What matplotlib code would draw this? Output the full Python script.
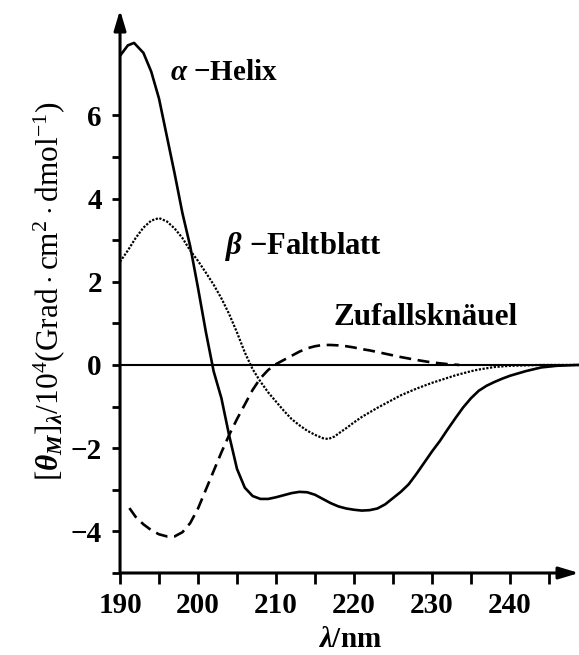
import matplotlib
matplotlib.use('Agg')
import matplotlib.pyplot as plt
import numpy as np

# CD-Spektren
helix_nm = [190, 191, 191.8, 193, 194, 195, 196, 197, 198, 199, 200, 201, 202, 203, 204,
            205, 206, 207, 208, 209, 210, 211, 212, 213, 214, 215, 216, 217, 218, 219,
            220, 221, 222, 223, 224, 225, 226, 227, 228, 229, 230, 231, 232, 233, 234,
            235, 236, 237, 238, 239, 240, 242, 244, 246, 248.8]
helix_val = [7.43, 7.68, 7.74, 7.5, 7.05, 6.4, 5.5, 4.6, 3.65, 2.85, 1.85, 0.8, -0.15, -0.8, -1.7,
             -2.5, -2.95, -3.15, -3.22, -3.22, -3.18, -3.13, -3.08, -3.05, -3.06, -3.12, -3.22, -3.32, -3.4, -3.45,
             -3.48, -3.5, -3.49, -3.45, -3.35, -3.2, -3.05, -2.87, -2.62, -2.35, -2.08, -1.83, -1.55, -1.28, -1.02,
             -0.8, -0.62, -0.5, -0.41, -0.33, -0.26, -0.15, -0.06, -0.02, 0]

faltblatt_nm = [190, 191, 192, 193, 194, 195, 196, 197, 198, 199, 200, 201, 202, 203, 204,
                205, 206, 207, 208, 209, 210, 211, 212, 213, 214, 215, 216, 216.7, 217.5, 218,
                219, 220, 221, 222, 223, 224, 225, 226, 227, 228, 229, 230, 231, 232, 233,
                234, 235, 236, 238, 240, 244, 248.8]
faltblatt_val = [2.48, 2.75, 3.05, 3.3, 3.47, 3.53, 3.45, 3.28, 3.05, 2.75, 2.5, 2.22, 1.93, 1.6, 1.22,
                 0.78, 0.3, -0.1, -0.4, -0.66, -0.88, -1.1, -1.3, -1.45, -1.58, -1.68, -1.76, -1.78, -1.72, -1.65,
                 -1.52, -1.38, -1.25, -1.14, -1.03, -0.93, -0.83, -0.73, -0.65, -0.57, -0.5, -0.43, -0.37, -0.31, -0.25,
                 -0.2, -0.15, -0.11, -0.05, -0.02, 0, 0]

knaeuel_nm = [191.2, 192, 193, 194, 195, 196, 197, 198, 199, 200, 201, 202, 203, 204, 205,
              206, 207, 208, 209, 210, 211, 212, 213, 214, 215, 216, 217, 218, 219, 220,
              221, 222, 224, 226, 228, 230, 232, 233.5]
knaeuel_val = [-3.44, -3.65, -3.83, -3.97, -4.07, -4.12, -4.12, -4.02, -3.8, -3.45, -3.0, -2.55, -2.1, -1.68, -1.3,
               -0.95, -0.6, -0.32, -0.12, 0.02, 0.12, 0.22, 0.32, 0.4, 0.45, 0.48, 0.48, 0.47, 0.45, 0.42,
               0.38, 0.35, 0.27, 0.19, 0.12, 0.06, 0.02, 0]

x_ticks = [190, 200, 210, 220, 230, 240]
y_ticks = [-4, -2, 0, 2, 4, 6]

plt.rcParams['font.family'] = ['Liberation Serif', 'DejaVu Serif']
plt.rcParams['font.weight'] = 'bold'
plt.rcParams['mathtext.fontset'] = 'custom'
plt.rcParams['mathtext.rm'] = 'Liberation Serif:regular'
plt.rcParams['mathtext.it'] = 'Liberation Serif:italic:bold'
plt.rcParams['mathtext.bf'] = 'Liberation Serif:bold'

fig = plt.figure(figsize=(5.79, 6.55), dpi=100)
ax = fig.add_axes([0.2073, 0.1252, 0.7927, 0.8595])

ax.plot(helix_nm, helix_val, color='black', lw=1.9, solid_capstyle='round')
ax.plot(faltblatt_nm, faltblatt_val, color='black', lw=1.6, linestyle=(0, (1, 0.7)))
ax.plot(knaeuel_nm, knaeuel_val, color='black', lw=1.9, linestyle=(0, (4.5, 2.5)))
ax.axhline(0, color='black', lw=1.5)

ax.set_xlim(190, 248.85)
ax.set_ylim(-5, 8.53)

# Achsen mit Pfeilen
for s in ['top', 'right', 'left', 'bottom']:
    ax.spines[s].set_visible(False)
arr = dict(arrowstyle='-|>,head_length=0.6,head_width=0.18', lw=2.2, color='black',
           mutation_scale=20, shrinkA=0, shrinkB=0)
ax.annotate('', xy=(1, 0), xytext=(0, 0), xycoords='axes fraction', arrowprops=arr)
ax.annotate('', xy=(0, 1), xytext=(0, 0), xycoords='axes fraction', arrowprops=arr)

ax.set_xticks(x_ticks)
ax.set_xticks(np.arange(195, 250, 10), minor=True)
ax.set_yticks(y_ticks)
ax.set_yticks([-5, -3, -1, 1, 3, 5], minor=True)
ax.tick_params(axis='x', which='both', direction='out', length=8, width=2, pad=6, labelsize=21)
ax.tick_params(axis='y', which='both', direction='out', length=6, width=2, pad=7, labelsize=21)

ax.set_xlabel(r'$\lambda$/nm', fontsize=21, fontweight='bold', labelpad=5)
ax.set_ylabel(r'$[\theta_M]_\lambda/10^4(\mathrm{Grad\cdot cm^2\cdot dmol^{-1}})$',
              fontsize=22.5, labelpad=3)

ax.text(196.4, 7.02, r'$\alpha$ −Helix', fontsize=21, va='center', ha='left')
ax.text(203.5, 2.84, r'$\beta$ −Faltblatt', fontsize=22, va='center', ha='left')
ax.text(217.4, 1.13, 'Zufallsknäuel', fontsize=22.5, va='center', ha='left')

plt.savefig('out.png', dpi=100)
